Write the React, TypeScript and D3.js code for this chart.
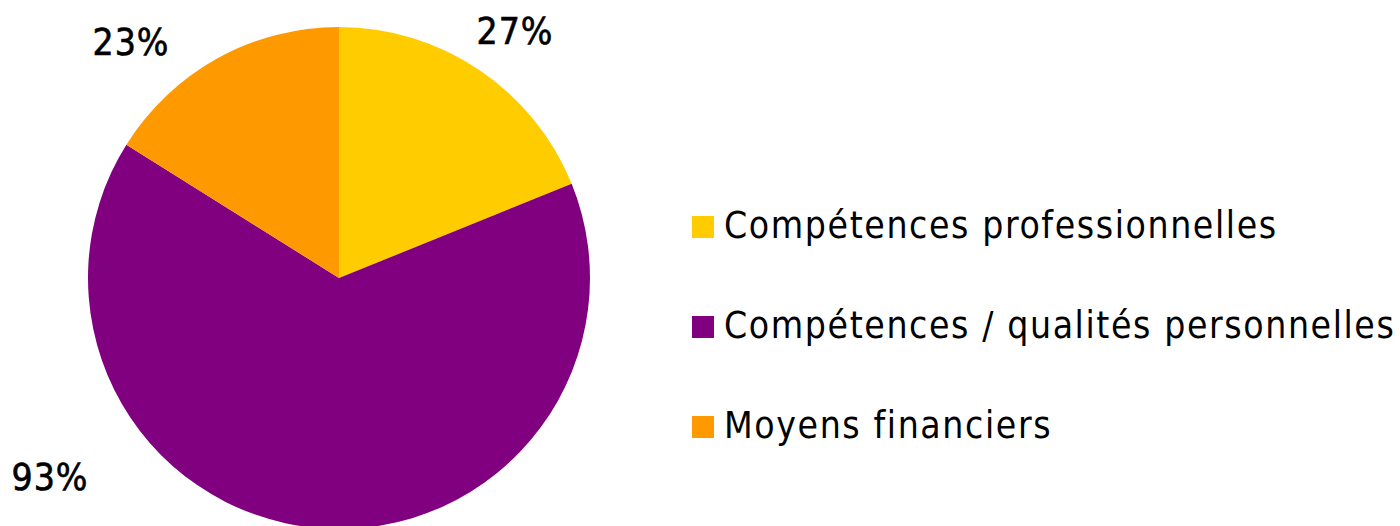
import React from "react";
import * as d3 from "d3";

const categories = ["Compétences professionnelles", "Compétences / qualités personnelles", "Moyens financiers"];
const values = [27, 93, 23];
const labels = ["27%", "93%", "23%"];
const colors = ["#FFCC00", "#800080", "#FF9900"];

const W = 1400, H = 526;
const cx = 339, cy = 278, R = 251;
const FONT = "'DejaVu Sans Condensed', 'DejaVu Sans', sans-serif";

const labelPos: [number, number][] = [[515, 44], [50, 490], [131, 55]];

export default function App() {
  const pie = d3.pie<number>().sort(null).value((d) => d);
  const arcs = pie(values);
  const arc = d3.arc<d3.PieArcDatum<number>>().innerRadius(0).outerRadius(R);
  const legendY = d3.scaleBand<string>().domain(categories).range([177, 477]);
  return (
    <svg width={W} height={H} style={{ position: "absolute", left: 0, top: 0, background: "#fff" }}>
      <g transform={`translate(${cx},${cy})`}>
        {arcs.map((a, i) => (
          <path key={i} d={arc(a) || ""} fill={colors[i]} />
        ))}
      </g>
      {labels.map((t, i) => (
        <text key={i} x={labelPos[i][0]} y={labelPos[i][1]} textAnchor="middle" fontFamily={FONT} fontSize={37} letterSpacing={1} stroke="#000" strokeWidth={0.6} fill="#000">
          {t}
        </text>
      ))}
      {categories.map((c, i) => {
        const y = (legendY(c) || 0) + legendY.bandwidth() / 2;
        return (
          <g key={c}>
            <rect x={692} y={y - 11} width={22} height={22} fill={colors[i]} />
            <text x={724} y={y + 11} fontFamily={FONT} fontSize={37} letterSpacing={1.6} fill="#000">{c}</text>
          </g>
        );
      })}
    </svg>
  );
}
